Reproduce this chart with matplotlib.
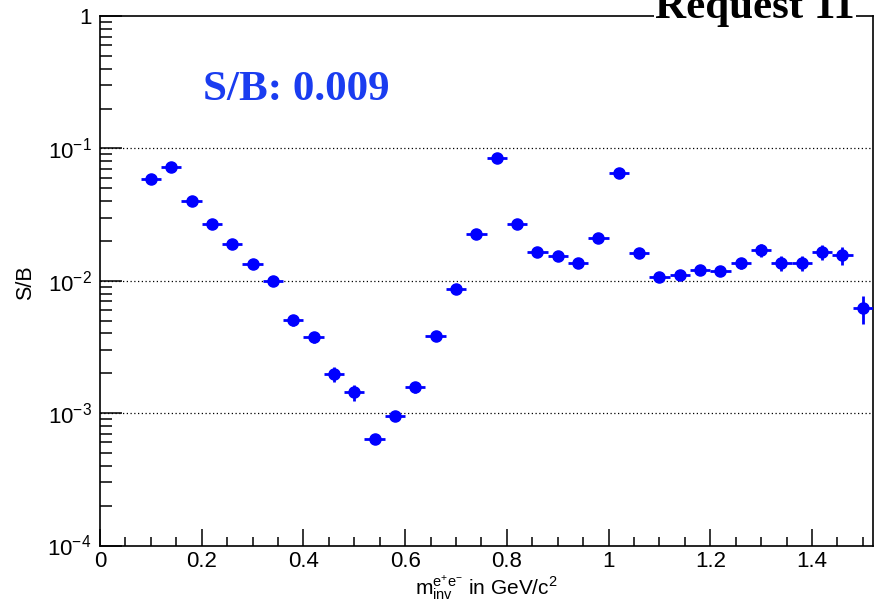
import numpy as np
import matplotlib
matplotlib.use("Agg")
import matplotlib.pyplot as plt
from matplotlib.ticker import LogLocator, FixedLocator, MultipleLocator, FuncFormatter, NullFormatter

plt.rcParams["font.family"] = ["Liberation Sans", "DejaVu Sans"]
plt.rcParams["mathtext.fontset"] = "custom"
plt.rcParams["mathtext.rm"] = "Liberation Sans"
plt.rcParams["mathtext.it"] = "Liberation Sans:italic"
plt.rcParams["mathtext.default"] = "regular"

# ─── data ────────────────────────────────────────────────────────────────────
mass = [0.10, 0.14, 0.18, 0.22, 0.26, 0.30, 0.34, 0.38, 0.42, 0.46, 0.50, 0.54,
        0.58, 0.62, 0.66, 0.70, 0.74, 0.78, 0.82, 0.86, 0.90, 0.94, 0.98, 1.02,
        1.06, 1.10, 1.14, 1.18, 1.22, 1.26, 1.30, 1.34, 1.38, 1.42, 1.46, 1.50]
sb = [0.0586, 0.0722, 0.0400, 0.0268, 0.0189, 0.0133, 0.00993, 0.00504, 0.00375,
      0.00197, 0.00144, 0.000635, 0.000948, 0.00157, 0.00381, 0.00864, 0.0225,
      0.0845, 0.0268, 0.0164, 0.0153, 0.0136, 0.0210, 0.0650, 0.0162, 0.0107,
      0.0110, 0.0120, 0.0118, 0.0136, 0.0170, 0.0136, 0.0136, 0.0164, 0.0156, 0.0062]
sb_err = [0.0040, 0.0050, 0.0028, 0.0019, 0.0013, 0.0010, 0.0008, 0.0005, 0.00035,
          0.00025, 0.0002, 0.00005, 0.00007, 0.00015, 0.0003, 0.0006, 0.0015,
          0.0050, 0.0018, 0.0012, 0.0012, 0.0011, 0.0015, 0.0040, 0.0012, 0.0008,
          0.0009, 0.0010, 0.0010, 0.0013, 0.0019, 0.0018, 0.0018, 0.0021, 0.0024, 0.0015]
bin_half = 0.02
sb_total = "S/B: 0.009"
title = "Request 11"

BLUE = "#0000ff"

fig = plt.figure(figsize=(8.84, 6.06), dpi=100)
ax = fig.add_axes([100 / 884, 1 - 545.5 / 606, 773 / 884, 529.5 / 606])

ax.errorbar(mass, sb, yerr=sb_err, xerr=bin_half, fmt="o", color=BLUE,
            ms=8, elinewidth=2, capsize=0, zorder=3)

ax.set_yscale("log")
ax.set_ylim(1e-4, 1)
ax.set_xlim(0, 1.52)

# grid only at the decades inside the frame
for y in [1e-1, 1e-2, 1e-3]:
    ax.axhline(y, color="black", lw=0.9, ls=(0, (1, 2)), zorder=1)

ax.yaxis.set_major_locator(FixedLocator([1e-4, 1e-3, 1e-2, 1e-1, 1]))
ax.yaxis.set_minor_locator(LogLocator(base=10, subs=np.arange(2, 10)))
ax.yaxis.set_minor_formatter(NullFormatter())


def decade(v, pos):
    n = int(round(np.log10(v)))
    return "1" if n == 0 else r"$10^{%d}$" % n


ax.yaxis.set_major_formatter(FuncFormatter(decade))
ax.xaxis.set_major_locator(MultipleLocator(0.2))
ax.xaxis.set_minor_locator(MultipleLocator(0.05))
ax.xaxis.set_major_formatter(FuncFormatter(lambda v, p: "%g" % round(v, 2)))

ax.tick_params(axis="both", which="both", direction="in", top=False, right=False,
               width=1.1, labelsize=16)
ax.tick_params(axis="y", which="major", length=16, pad=6)
ax.tick_params(axis="y", which="minor", length=8.5)
ax.tick_params(axis="x", which="major", length=12, pad=4)
ax.tick_params(axis="x", which="minor", length=6.3)
for sp in ax.spines.values():
    sp.set_linewidth(1.2)

ax.set_ylabel("S/B", fontsize=15.5)
ax.yaxis.set_label_coords(-0.083, 0.496)
ax.set_xlabel(r"$m_{inv}^{e^{+}e^{-}}$ in GeV/c$^{2}$", fontsize=15)
ax.xaxis.set_label_coords(0.5, -0.052)

fig.text(203 / 884, 1 - 100 / 606, sb_total, color="#1a3cf0", fontsize=31,
         fontweight="bold", family="Liberation Serif", ha="left", va="baseline")
fig.text(755 / 884, 1 - 18 / 606, title, color="black", fontsize=31,
         fontweight="bold", family="Liberation Serif", ha="center", va="baseline",
         bbox=dict(facecolor="white", edgecolor="none", pad=1), zorder=5)

fig.savefig("out.png", dpi=100)
